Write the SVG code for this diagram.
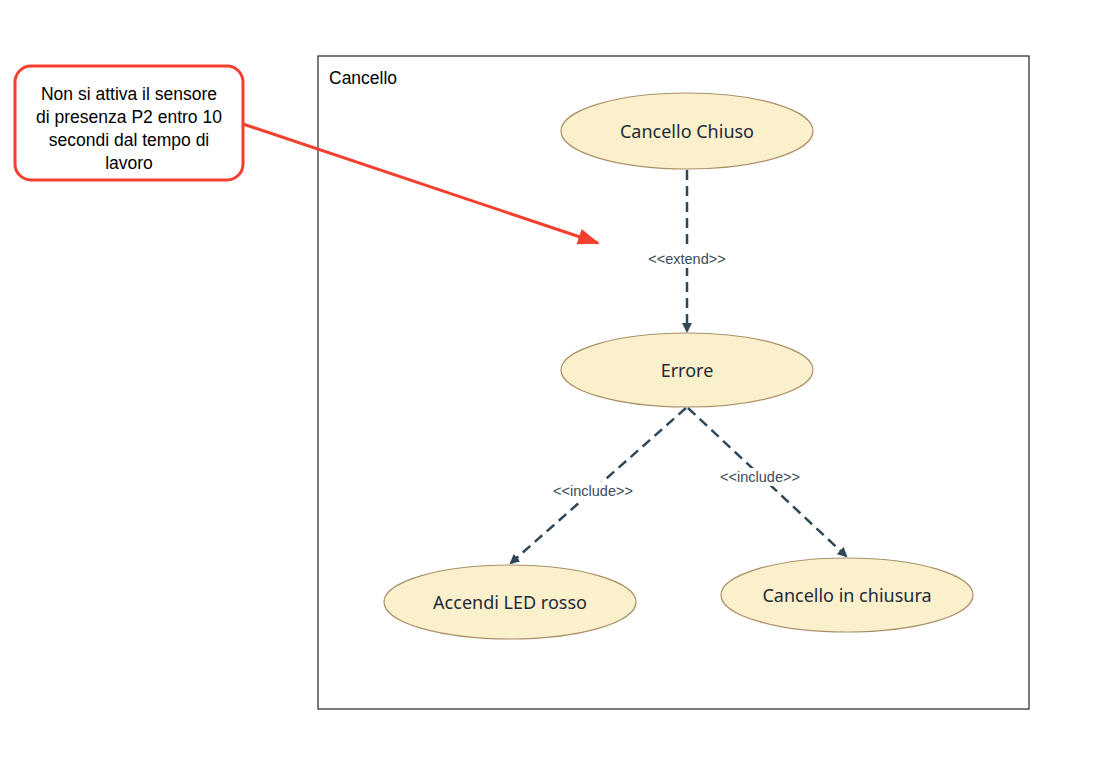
<svg xmlns="http://www.w3.org/2000/svg" width="1098" height="757" viewBox="0 0 1098 757">
<style>
.uc{fill:#fbf0cc;stroke:#a99167;stroke-width:1.2}
.uct{font-family:"Source Sans Pro","Noto Sans",sans-serif;font-size:18px;fill:#1e2a36;text-anchor:middle}
.con{fill:none;stroke:#2f4858;stroke-width:2.5;stroke-dasharray:10 6}
.lbl{font-family:"Liberation Sans",Arial,sans-serif;font-size:14.5px;fill:#3a4a5a;text-anchor:middle}
.note{font-family:"Liberation Sans",Arial,sans-serif;font-size:17.5px;fill:#000;text-anchor:middle}
</style>
<defs>
<marker id="ah" markerWidth="10" markerHeight="10" refX="8" refY="5" orient="auto" markerUnits="userSpaceOnUse">
<path d="M0,0 L10,5 L0,10 Z" fill="#2f4858"/>
</marker>
<marker id="rah" markerWidth="22" markerHeight="16" refX="20" refY="8" orient="auto" markerUnits="userSpaceOnUse">
<path d="M0,0 L22,8 L0,16 Z" fill="#f43f2f"/>
</marker>
</defs>
<rect width="1098" height="757" fill="#fff"/>
<g id="container">
<rect x="318" y="56" width="711" height="653" fill="none" stroke="#222" stroke-width="1.2"/>
<text x="329" y="84" font-family="Liberation Sans,Arial,sans-serif" font-size="17.5" fill="#000">Cancello</text>
</g>
<g id="connectors">
<line class="con" x1="687" y1="170" x2="687" y2="331" marker-end="url(#ah)"/>
<rect x="644" y="250" width="86" height="18" fill="#fff"/>
<text class="lbl" x="687" y="264">&lt;&lt;extend&gt;&gt;</text>
<line class="con" x1="686" y1="408" x2="511" y2="563" marker-end="url(#ah)"/>
<rect x="549" y="482" width="88" height="18" fill="#fff"/>
<text class="lbl" x="593" y="496">&lt;&lt;include&gt;&gt;</text>
<line class="con" x1="688" y1="408" x2="846" y2="556" marker-end="url(#ah)"/>
<rect x="716" y="468" width="88" height="18" fill="#fff"/>
<text class="lbl" x="760" y="482">&lt;&lt;include&gt;&gt;</text>
<line x1="243" y1="124" x2="598" y2="243" stroke="#f43f2f" stroke-width="3" marker-end="url(#rah)"/>
</g>
<g id="note">
<rect x="15" y="66" width="228" height="114" rx="16" ry="16" fill="#fff" stroke="#f43f2f" stroke-width="3"/>
<text class="note" x="129" y="100">Non si attiva il sensore</text>
<text class="note" x="129" y="123">di presenza P2 entro 10</text>
<text class="note" x="129" y="146">secondi dal tempo di</text>
<text class="note" x="129" y="169">lavoro</text>
</g>
<g id="uc1">
<ellipse class="uc" cx="687" cy="131" rx="126" ry="38"/>
<text class="uct" x="687" y="138">Cancello Chiuso</text>
</g>
<g id="uc2">
<ellipse class="uc" cx="687" cy="370" rx="126" ry="37"/>
<text class="uct" x="687" y="377">Errore</text>
</g>
<g id="uc3">
<ellipse class="uc" cx="510" cy="602" rx="126" ry="37"/>
<text class="uct" x="510" y="609">Accendi LED rosso</text>
</g>
<g id="uc4">
<ellipse class="uc" cx="847" cy="595" rx="126" ry="37"/>
<text class="uct" x="847" y="602">Cancello in chiusura</text>
</g>
</svg>
